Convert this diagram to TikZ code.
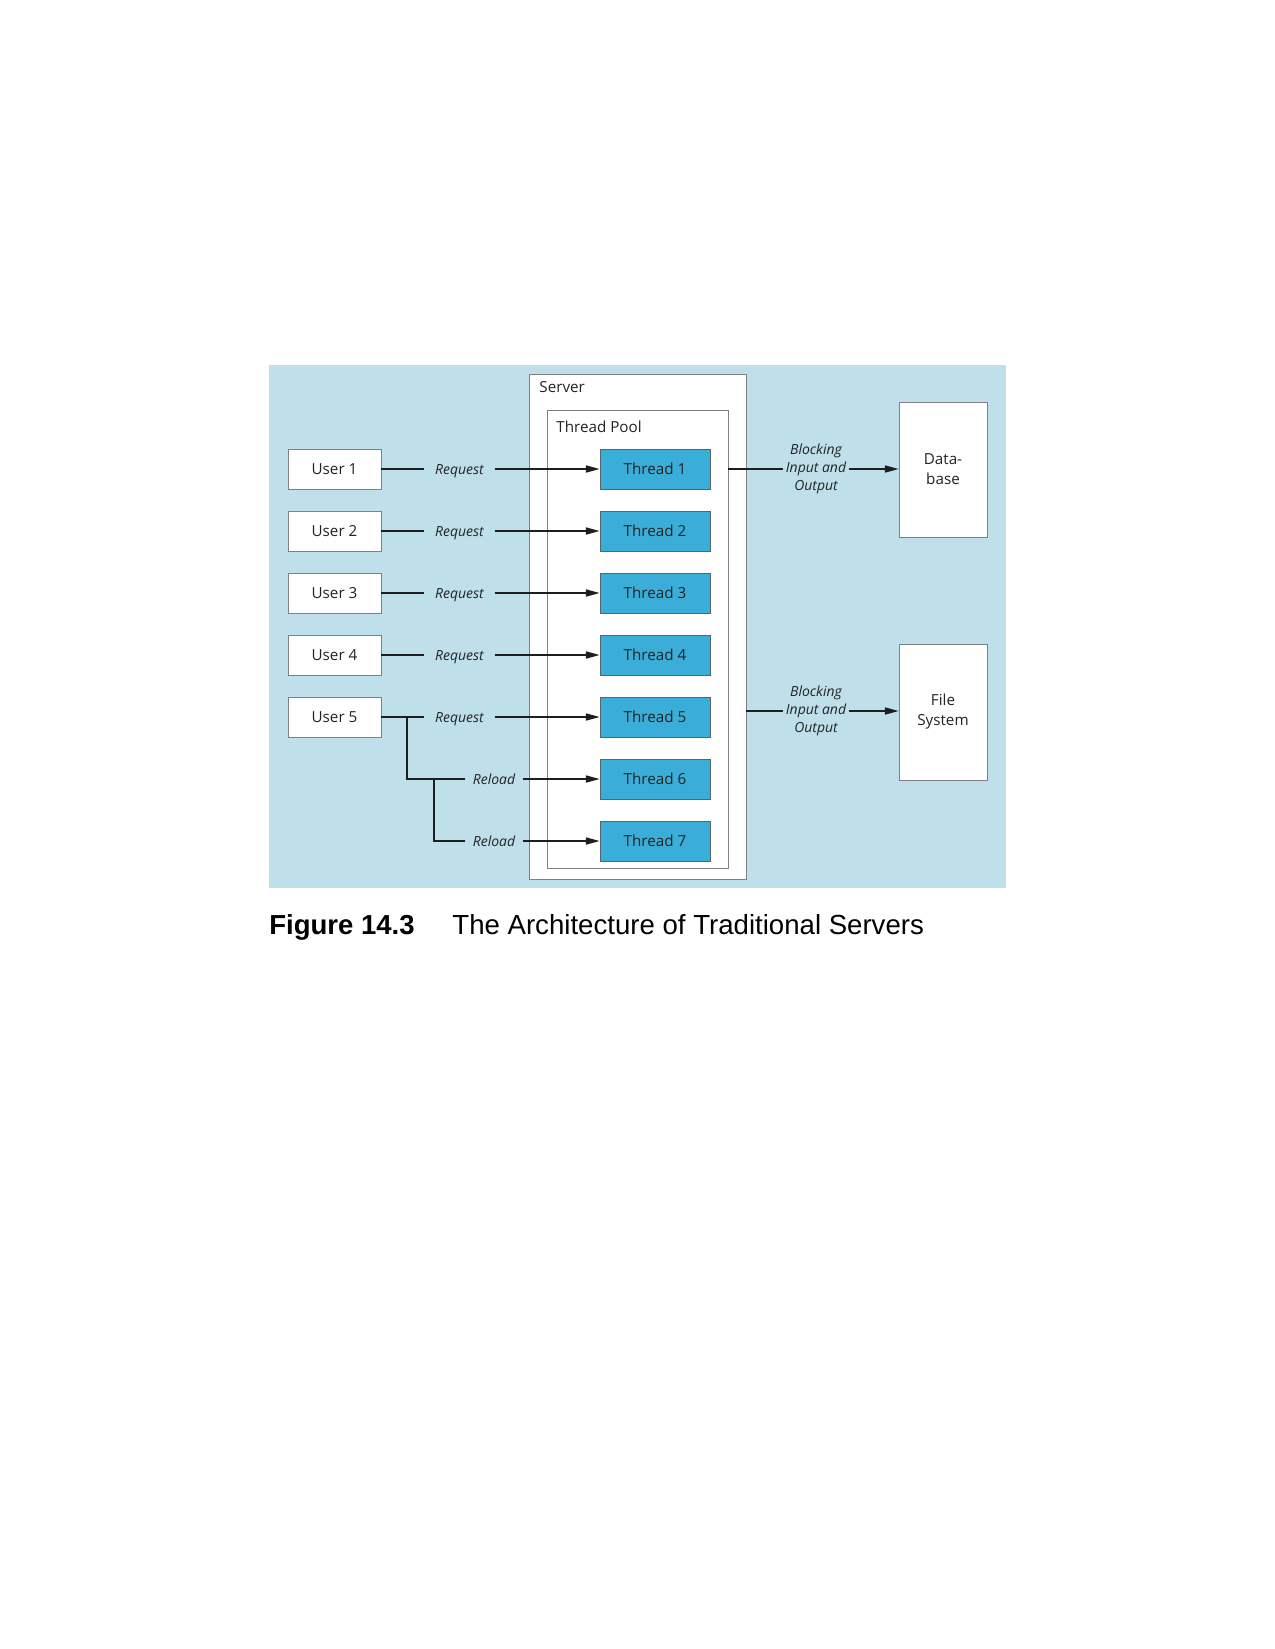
\documentclass[tikz,border=0pt]{standalone}
\usepackage{fontspec}
\setmainfont{Open Sans}
\newfontfamily\capfont{Liberation Sans}
\usetikzlibrary{arrows.meta}
\definecolor{bgblue}{RGB}{191,223,235}
\definecolor{thblue}{RGB}{58,174,216}
\definecolor{boxgray}{RGB}{128,128,128}
\definecolor{thgray}{RGB}{90,100,110}
\definecolor{txt}{RGB}{35,35,35}
\definecolor{ln}{RGB}{30,30,30}
\begin{document}
\begin{tikzpicture}[x=0.48pt,y=-0.48pt,
  boxtext/.style={font=\fontsize{7.3pt}{9.6pt}\selectfont, text=txt},
  userbox/.style={draw=boxgray, fill=white, line width=0.45pt, minimum width=93*0.48pt, minimum height=40*0.48pt, inner sep=0pt, boxtext},
  threadbox/.style={draw=thgray, fill=thblue, line width=0.45pt, minimum width=110*0.48pt, minimum height=40*0.48pt, inner sep=0pt, boxtext},
  storebox/.style={draw=boxgray, fill=white, line width=0.45pt, minimum width=88*0.48pt, minimum height=136*0.48pt, inner sep=0pt, boxtext, align=center},
  framebox/.style={draw=boxgray, fill=white, line width=0.45pt, inner sep=0pt},
  lbl/.style={font=\fontsize{6.7pt}{8.6pt}\selectfont\itshape, text=txt, text height=4.8pt, text depth=0pt, inner ysep=0pt},
  reqlbl/.style={lbl, inner xsep=5pt},
  rellbl/.style={lbl, inner xsep=3.8pt},
  blklbl/.style={font=\fontsize{6.7pt}{8.6pt}\selectfont\itshape, text=txt, align=center, inner xsep=1pt, inner ysep=0pt},
  conn/.style={draw=ln, line width=0.6pt},
  arr/.style={conn, -{Triangle[length=6.5pt,width=3.4pt]}}
]
\useasboundingbox (0,0) rectangle (1275,1649);
\fill[white] (0,0) rectangle (1275,1649);
\fill[bgblue] (269,365) rectangle (1006,888);

% server and pool
\node[framebox, minimum width=217*0.48pt, minimum height=505*0.48pt] (server) at (637.5,626.5) {};
\node[framebox, minimum width=181*0.48pt, minimum height=458*0.48pt] (pool) at (637.5,639) {};
\node[boxtext, anchor=base west, inner sep=0pt] (servertxt) at (539,392.5) {Server};
\node[boxtext, anchor=base west, inner sep=0pt] (pooltxt) at (556,432) {Thread Pool};

% users
\foreach \i/\y in {1/469,2/531,3/593,4/655,5/717}{
  \node[userbox] (u\i) at (334.5,\y) {User \i};
}
% threads
\foreach \i/\y in {1/469,2/531,3/593,4/655,5/717,6/779,7/841}{
  \node[threadbox] (t\i) at (655,\y) {Thread \i};
}
% request labels and connectors
\foreach \i/\y in {1/469,2/531,3/593,4/655,5/717}{
  \node[reqlbl] (r\i) at (459.5,\y) {Request};
  \draw[conn] (u\i.east) -- (r\i.west);
  \draw[arr] (r\i.east) -- (t\i.west);
}
% reload labels
\node[rellbl] (rl6) at (494,779) {Reload};
\node[rellbl] (rl7) at (494,841) {Reload};
\coordinate (b1) at (407,717);
\coordinate (b2) at (434,779);
\draw[conn] (b1) |- (rl6.west);
\draw[conn] (b2) |- (rl7.west);
\draw[arr] (rl6.east) -- (t6.west);
\draw[arr] (rl7.east) -- (t7.west);

% stores
\node[storebox, minimum height=135*0.48pt] (db) at (943,469.5) {Data-\\base};
\node[storebox] (fs) at (943,712) {File\\System};

% blocking labels
\node[blklbl] (bk1) at (816,469) {Blocking\\Input and\\Output};
\node[blklbl] (bk2) at (816,711) {Blocking\\Input and\\Output};
\draw[conn] (pool.east |- t1.east) -- (bk1.west |- t1.east);
\draw[arr] (bk1.east |- t1.east) -- (db.west |- t1.east);
\draw[conn] (server.east |- bk2.west) -- (bk2.west);
\draw[arr] (bk2.east) -- (bk2.east -| fs.west);

% caption
\node[font=\capfont\bfseries\fontsize{13.2pt}{15pt}\selectfont, anchor=base west, inner sep=0pt] (capnum) at (269,934) {Figure 14.3};
\node[font=\capfont\fontsize{13.25pt}{15pt}\selectfont, anchor=base west, inner sep=0pt] (captxt) at (452,934) {The Architecture of Traditional Servers};
\end{tikzpicture}
\end{document}
